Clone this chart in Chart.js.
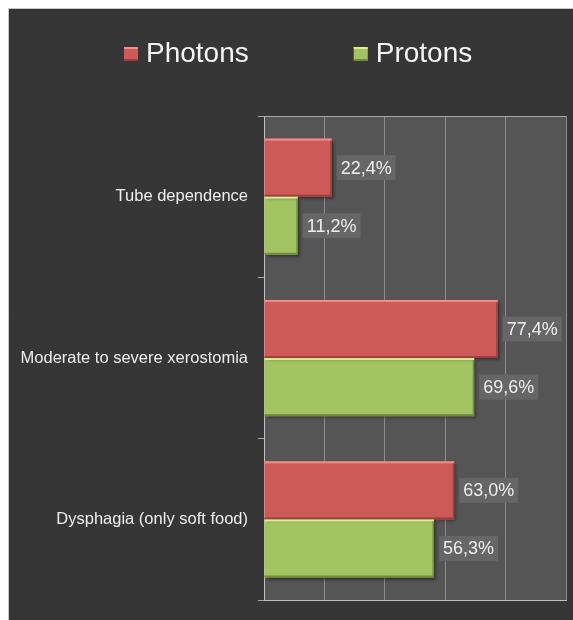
<!DOCTYPE html>
<html>
<head>
<meta charset="utf-8">
<title>Photons vs Protons</title>
<script src="https://cdn.jsdelivr.net/npm/chart.js@4.4.0/dist/chart.umd.min.js"></script>
<style>
  html, body { margin: 0; padding: 0; background: #ffffff; overflow: hidden; }
  #wrap { width: 573px; height: 620px; }
  canvas { display: block; }
</style>
</head>
<body>
<div id="wrap"><canvas id="myChart" width="573" height="620"></canvas></div>
<script>
// Datos del gráfico
const categories = ['Tube dependence', 'Moderate to severe xerostomia', 'Dysphagia (only soft food)'];
const seriesNames = ['Photons', 'Protons'];
const photonValues = [22.4, 77.4, 63.0];
const protonValues = [11.2, 69.6, 56.3];
const xTicks = [0, 20, 40, 60, 80, 100];

const FONT = '"Liberation Sans", Arial, sans-serif';
const barColors = [
  { fill: '#cd5a57', light: '#ef8e8a', dark: '#9c3f3c' },
  { fill: '#a4c463', light: '#d3ee93', dark: '#718c3a' }
];

// Fondo: página blanca, panel oscuro y área del gráfico gris
const backgroundPlugin = {
  id: 'background',
  beforeDraw(chart) {
    const ctx = chart.ctx;
    const a = chart.chartArea;
    ctx.save();
    ctx.fillStyle = '#ffffff';
    ctx.fillRect(0, 0, chart.width, chart.height);
    ctx.fillStyle = '#363636';
    ctx.fillRect(9, 9, chart.width - 9, chart.height - 9);
    ctx.strokeStyle = '#c8c8c8';
    ctx.lineWidth = 1;
    ctx.beginPath();
    ctx.moveTo(8.5, chart.height);
    ctx.lineTo(8.5, 8.5);
    ctx.lineTo(chart.width, 8.5);
    ctx.stroke();
    ctx.fillStyle = '#555555';
    ctx.fillRect(a.left, a.top, a.right - a.left, a.bottom - a.top);
    ctx.restore();
  },
  beforeDatasetsDraw(chart) {
    const ctx = chart.ctx;
    const a = chart.chartArea;
    ctx.save();
    ctx.strokeStyle = '#a8a8a8';
    ctx.lineWidth = 1;
    ctx.beginPath();
    ctx.moveTo(a.left, a.top + 0.5);
    ctx.lineTo(a.right, a.top + 0.5);
    ctx.stroke();
    ctx.restore();
    // sombra de las barras
    ctx.save();
    ctx.shadowColor = 'rgba(0,0,0,0.45)';
    ctx.shadowOffsetX = 2;
    ctx.shadowOffsetY = 2;
    ctx.shadowBlur = 3;
  },
  afterDatasetsDraw(chart) {
    const ctx = chart.ctx;
    ctx.restore();
    // bisel de las barras
    chart.data.datasets.forEach((ds, di) => {
      const c = barColors[di];
      chart.getDatasetMeta(di).data.forEach(bar => {
        const left = Math.min(bar.base, bar.x);
        const right = Math.max(bar.base, bar.x);
        const top = bar.y - bar.height / 2;
        const bottom = bar.y + bar.height / 2;
        ctx.save();
        ctx.fillStyle = c.light;
        ctx.fillRect(left, top, right - left, 2);
        ctx.fillStyle = c.dark;
        ctx.fillRect(left, bottom - 2, right - left, 2);
        ctx.fillRect(right - 1.5, top + 2, 1.5, bottom - top - 2);
        ctx.restore();
      });
    });
  }
};

// Etiquetas de valor con caja gris
const valueLabelPlugin = {
  id: 'valueLabels',
  afterDatasetsDraw(chart) {
    const ctx = chart.ctx;
    ctx.save();
    ctx.font = '18px ' + FONT;
    ctx.textBaseline = 'middle';
    chart.data.datasets.forEach((ds, di) => {
      chart.getDatasetMeta(di).data.forEach((bar, i) => {
        const txt = ds.data[i].toFixed(1).replace('.', ',') + '%';
        const w = ctx.measureText(txt).width + 8;
        const x0 = bar.x + 5;
        ctx.fillStyle = '#666666';
        ctx.fillRect(x0, bar.y - 12.5, w, 25);
        ctx.fillStyle = '#eeeeee';
        ctx.fillText(txt, x0 + 4, bar.y + 1);
      });
    });
    ctx.restore();
  }
};

// Leyenda dibujada arriba
const legendPlugin = {
  id: 'topLegend',
  afterDraw(chart) {
    const ctx = chart.ctx;
    ctx.save();
    ctx.font = '28px ' + FONT;
    ctx.textBaseline = 'alphabetic';
    let x = 124;
    chart.data.datasets.forEach((ds, di) => {
      const c = barColors[di];
      ctx.fillStyle = c.fill;
      ctx.fillRect(x, 47, 14, 14);
      ctx.fillStyle = c.light;
      ctx.fillRect(x, 47, 14, 2);
      ctx.fillStyle = c.dark;
      ctx.fillRect(x, 59, 14, 2);
      ctx.fillStyle = '#f5f5f5';
      const tx = x + 22;
      ctx.fillText(ds.label, tx, 62);
      x = tx + ctx.measureText(ds.label).width + 105;
    });
    ctx.restore();
  }
};

const ctx = document.getElementById('myChart').getContext('2d');
new Chart(ctx, {
  type: 'bar',
  data: {
    labels: categories,
    datasets: [
      {
        label: seriesNames[0],
        data: photonValues,
        backgroundColor: barColors[0].fill,
        categoryPercentage: 0.72,
        barPercentage: 1.0
      },
      {
        label: seriesNames[1],
        data: protonValues,
        backgroundColor: barColors[1].fill,
        categoryPercentage: 0.72,
        barPercentage: 1.0
      }
    ]
  },
  options: {
    indexAxis: 'y',
    responsive: false,
    animation: false,
    layout: { padding: { top: 116, right: 7, bottom: 10, left: 0 } },
    plugins: {
      legend: { display: false },
      tooltip: { enabled: false }
    },
    scales: {
      x: {
        min: xTicks[0],
        max: xTicks[xTicks.length - 1],
        ticks: { display: false, stepSize: xTicks[1] - xTicks[0] },
        grid: { color: '#8c8c8c', drawTicks: false },
        border: { display: true, color: '#c0c0c0' },
        afterFit(scale) { scale.height = 0; }
      },
      y: {
        ticks: { color: '#eeeeee', font: { size: 16.5, family: FONT }, padding: 10 },
        grid: { drawOnChartArea: false, drawTicks: true, tickLength: 6, color: '#a8a8a8', offset: true },
        border: { display: true, color: '#c0c0c0' },
        afterFit(scale) { scale.width = 264; }
      }
    }
  },
  plugins: [backgroundPlugin, valueLabelPlugin, legendPlugin]
});
</script>
</body>
</html>
